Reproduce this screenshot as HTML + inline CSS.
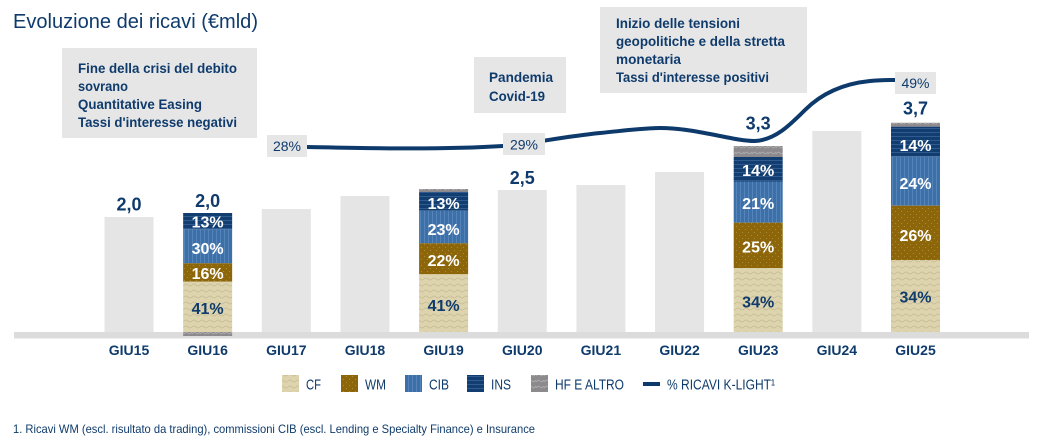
<!DOCTYPE html>
<html>
<head>
<meta charset="utf-8">
<style>
html,body{margin:0;padding:0;background:#fff;}
svg{display:block;}
text{font-family:"Liberation Sans",sans-serif;fill:#0f3b6c;}
</style>
</head>
<body>
<svg width="1043" height="445" viewBox="0 0 1043 445" xmlns="http://www.w3.org/2000/svg">
<defs>
  <pattern id="pCF" width="8" height="6" patternUnits="userSpaceOnUse">
    <rect width="8" height="6" fill="#ddd4ae"/>
    <path d="M0,3 Q2,1 4,3 T8,3" fill="none" stroke="#c4ba95" stroke-width="0.8"/>
  </pattern>
  <pattern id="pWM" width="6" height="6" patternUnits="userSpaceOnUse">
    <rect width="6" height="6" fill="#8c6609"/>
    <rect x="1" y="1" width="1" height="1" fill="#a88a3c"/>
    <rect x="4" y="4" width="1" height="1" fill="#a88a3c"/>
  </pattern>
  <pattern id="pCIB" width="4" height="4" patternUnits="userSpaceOnUse">
    <rect width="4" height="4" fill="#3e70a8"/>
    <rect x="0" y="0" width="1" height="4" fill="#5484ba"/>
  </pattern>
  <pattern id="pINS" width="4" height="4" patternUnits="userSpaceOnUse">
    <rect width="4" height="4" fill="#123d70"/>
    <rect x="0" y="0" width="4" height="1" fill="#2f5b8e"/>
  </pattern>
  <pattern id="pHF" width="8" height="6" patternUnits="userSpaceOnUse">
    <rect width="8" height="6" fill="#8d8a8e"/>
    <path d="M0,4 Q2,1 4,3 T8,2" fill="none" stroke="#b3b0b3" stroke-width="0.8"/>
  </pattern>
</defs>

<rect width="1043" height="445" fill="#fff"/>

<!-- Title -->
<text x="13" y="28" font-size="20" textLength="245" lengthAdjust="spacingAndGlyphs">Evoluzione dei ricavi (€mld)</text>

<!-- Annotation boxes -->
<rect x="62" y="48" width="195" height="90" fill="#e6e6e6"/>
<text x="78" y="73" font-size="14" font-weight="bold" textLength="159" lengthAdjust="spacingAndGlyphs">Fine della crisi del debito</text>
<text x="78" y="91" font-size="14" font-weight="bold" textLength="50" lengthAdjust="spacingAndGlyphs">sovrano</text>
<text x="78" y="109" font-size="14" font-weight="bold" textLength="124" lengthAdjust="spacingAndGlyphs">Quantitative Easing</text>
<text x="78" y="127" font-size="14" font-weight="bold" textLength="159" lengthAdjust="spacingAndGlyphs">Tassi d'interesse negativi</text>

<rect x="474" y="57" width="92" height="56" fill="#e6e6e6"/>
<text x="489" y="82" font-size="14" font-weight="bold" textLength="64" lengthAdjust="spacingAndGlyphs">Pandemia</text>
<text x="489" y="101" font-size="14" font-weight="bold" textLength="56" lengthAdjust="spacingAndGlyphs">Covid-19</text>

<rect x="600" y="7" width="207" height="86" fill="#e6e6e6"/>
<text x="616" y="28" font-size="14" font-weight="bold" textLength="124" lengthAdjust="spacingAndGlyphs">Inizio delle tensioni</text>
<text x="616" y="46" font-size="14" font-weight="bold" textLength="169" lengthAdjust="spacingAndGlyphs">geopolitiche e della stretta</text>
<text x="616" y="64" font-size="14" font-weight="bold" textLength="65" lengthAdjust="spacingAndGlyphs">monetaria</text>
<text x="616" y="82" font-size="14" font-weight="bold" textLength="153" lengthAdjust="spacingAndGlyphs">Tassi d'interesse positivi</text>

<!-- Baseline -->
<rect x="14" y="332" width="1015" height="6.5" fill="#dcdcdc"/>

<!-- Grey bars -->
<rect x="104.5" y="217" width="49" height="115" fill="#e5e5e5"/>
<rect x="261.8" y="209" width="49" height="123" fill="#e5e5e5"/>
<rect x="340.45" y="196" width="49" height="136" fill="#e5e5e5"/>
<rect x="497.75" y="190" width="49" height="142" fill="#e5e5e5"/>
<rect x="576.4" y="185" width="49" height="147" fill="#e5e5e5"/>
<rect x="655.05" y="172" width="49" height="160" fill="#e5e5e5"/>
<rect x="812.35" y="131" width="49" height="201" fill="#e5e5e5"/>

<!-- GIU16 stacked -->
<rect x="183.15" y="213" width="49" height="16.3" fill="url(#pINS)"/>
<rect x="183.15" y="229.3" width="49" height="34" fill="url(#pCIB)"/>
<rect x="183.15" y="263.3" width="49" height="18.4" fill="url(#pWM)"/>
<rect x="183.15" y="281.7" width="49" height="50.3" fill="url(#pCF)"/>
<rect x="183.15" y="332" width="49" height="4" fill="url(#pHF)"/>

<!-- GIU19 stacked -->
<rect x="419.1" y="189" width="49" height="3" fill="url(#pHF)"/>
<rect x="419.1" y="192" width="49" height="18.7" fill="url(#pINS)"/>
<rect x="419.1" y="210.7" width="49" height="32.6" fill="url(#pCIB)"/>
<rect x="419.1" y="243.3" width="49" height="31" fill="url(#pWM)"/>
<rect x="419.1" y="274.3" width="49" height="57.7" fill="url(#pCF)"/>

<!-- GIU23 stacked -->
<rect x="733.7" y="146" width="49" height="11" fill="url(#pHF)"/>
<rect x="733.7" y="157" width="49" height="24.5" fill="url(#pINS)"/>
<rect x="733.7" y="181.5" width="49" height="41.2" fill="url(#pCIB)"/>
<rect x="733.7" y="222.7" width="49" height="45.3" fill="url(#pWM)"/>
<rect x="733.7" y="268" width="49" height="64" fill="url(#pCF)"/>

<!-- GIU25 stacked -->
<rect x="891" y="122.7" width="49" height="4" fill="url(#pHF)"/>
<rect x="891" y="126.7" width="49" height="30" fill="url(#pINS)"/>
<rect x="891" y="156.7" width="49" height="49" fill="url(#pCIB)"/>
<rect x="891" y="205.7" width="49" height="54.3" fill="url(#pWM)"/>
<rect x="891" y="260" width="49" height="72" fill="url(#pCF)"/>

<!-- Segment labels -->
<g font-size="16" font-weight="bold" text-anchor="middle">
  <text x="207.65" y="227.5" style="fill:#fff">13%</text>
  <text x="207.65" y="253.8" style="fill:#fff">30%</text>
  <text x="207.65" y="278.8" style="fill:#fff">16%</text>
  <text x="207.65" y="313.8">41%</text>

  <text x="443.6" y="208.8" style="fill:#fff">13%</text>
  <text x="443.6" y="234.8" style="fill:#fff">23%</text>
  <text x="443.6" y="265.8" style="fill:#fff">22%</text>
  <text x="443.6" y="310.8">41%</text>

  <text x="758.2" y="175.8" style="fill:#fff">14%</text>
  <text x="758.2" y="208.8" style="fill:#fff">21%</text>
  <text x="758.2" y="252.5" style="fill:#fff">25%</text>
  <text x="758.2" y="307.5">34%</text>

  <text x="915.5" y="150.8" style="fill:#fff">14%</text>
  <text x="915.5" y="188.8" style="fill:#fff">24%</text>
  <text x="915.5" y="240.8" style="fill:#fff">26%</text>
  <text x="915.5" y="302.5">34%</text>
</g>

<!-- Value labels -->
<g font-size="18" font-weight="bold" text-anchor="middle">
  <text x="129" y="210.5">2,0</text>
  <text x="207.65" y="207">2,0</text>
  <text x="522.25" y="184">2,5</text>
  <text x="758.2" y="129.5">3,3</text>
  <text x="915.5" y="114.5">3,7</text>
</g>

<!-- % line -->
<path d="M307,147 C360,148 440,150 503,146 C530,144 560,137 600,133 C630,130 645,128 660,128 C680,128 700,132 720,136 C735,139 745,141 755,141 C775,140 790,125 805,110 C820,95 840,84 870,81 C880,80 888,80 896,80" fill="none" stroke="#0d3a6b" stroke-width="4"/>

<rect x="267" y="135" width="40" height="22" fill="#e6e6e6"/>
<text x="287" y="151" font-size="14" text-anchor="middle">28%</text>
<rect x="503" y="133" width="42" height="22" fill="#e6e6e6"/>
<text x="524" y="149.5" font-size="14" text-anchor="middle">29%</text>
<rect x="895" y="72" width="41" height="22" fill="#e6e6e6"/>
<text x="915.5" y="88" font-size="14" text-anchor="middle">49%</text>

<!-- X axis labels -->
<g font-size="14" font-weight="bold" text-anchor="middle">
  <text x="129" y="355">GIU15</text>
  <text x="207.65" y="355">GIU16</text>
  <text x="286.3" y="355">GIU17</text>
  <text x="364.95" y="355">GIU18</text>
  <text x="443.6" y="355">GIU19</text>
  <text x="522.25" y="355">GIU20</text>
  <text x="600.9" y="355">GIU21</text>
  <text x="679.55" y="355">GIU22</text>
  <text x="758.2" y="355">GIU23</text>
  <text x="836.85" y="355">GIU24</text>
  <text x="915.5" y="355">GIU25</text>
</g>

<!-- Legend -->
<rect x="282" y="375" width="17" height="17" fill="url(#pCF)"/>
<text x="306" y="389.5" font-size="15" textLength="15" lengthAdjust="spacingAndGlyphs">CF</text>
<rect x="341" y="375" width="17" height="17" fill="url(#pWM)"/>
<text x="365" y="389.5" font-size="15" textLength="21" lengthAdjust="spacingAndGlyphs">WM</text>
<rect x="405" y="375" width="17" height="17" fill="url(#pCIB)"/>
<text x="429" y="389.5" font-size="15" textLength="20" lengthAdjust="spacingAndGlyphs">CIB</text>
<rect x="467" y="375" width="17" height="17" fill="url(#pINS)"/>
<text x="491" y="389.5" font-size="15" textLength="20" lengthAdjust="spacingAndGlyphs">INS</text>
<rect x="531" y="375" width="17" height="17" fill="url(#pHF)"/>
<text x="555" y="389.5" font-size="15" textLength="69" lengthAdjust="spacingAndGlyphs">HF E ALTRO</text>
<rect x="643" y="382" width="17" height="4" fill="#0d3a6b"/>
<text x="667" y="389.5" font-size="15" textLength="108" lengthAdjust="spacingAndGlyphs">% RICAVI K-LIGHT¹</text>

<!-- Footnote -->
<text x="13" y="433" font-size="12" textLength="522" lengthAdjust="spacingAndGlyphs">1. Ricavi WM (escl. risultato da trading), commissioni CIB (escl. Lending e Specialty Finance) e Insurance</text>
</svg>
</body>
</html>
